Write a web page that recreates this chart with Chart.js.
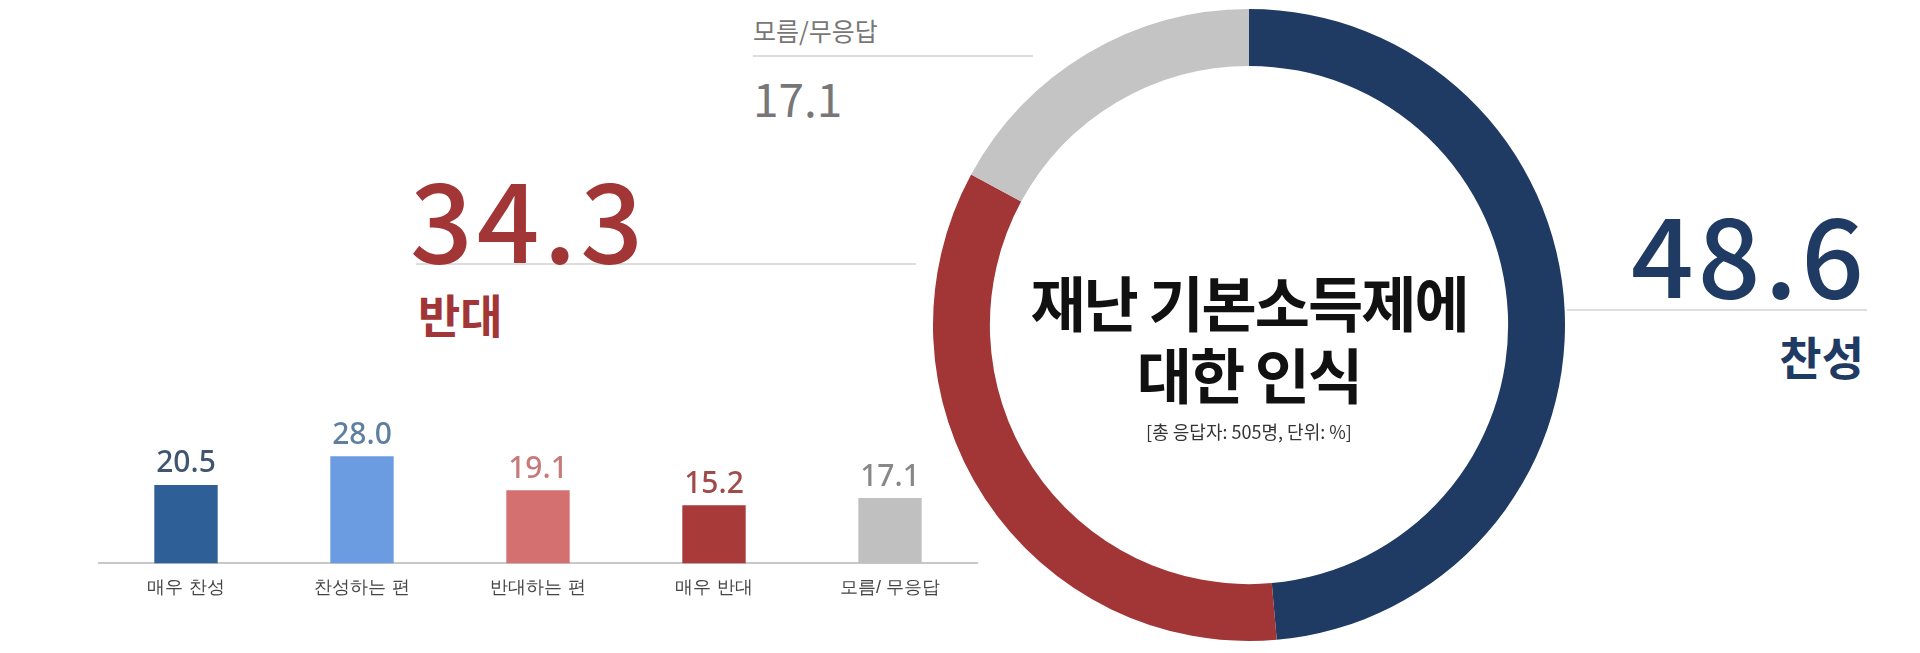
<!DOCTYPE html>
<html>
<head>
<meta charset="utf-8">
<script src="https://cdn.jsdelivr.net/npm/chart.js@4"></script>
<style>
  body { margin: 0; width: 1920px; height: 653px; background: #fff; overflow: hidden; position: relative;
         font-family: "Noto Sans CJK KR", "Noto Sans", sans-serif; }
  .t { position: absolute; white-space: nowrap; }
  .ln { position: absolute; height: 2px; background: #ddd; }
  canvas { position: absolute; }
</style>
</head>
<body>
<div class="ln" style="left:753px; top:55px; width:280px;"></div>
<div class="ln" style="left:416px; top:263px; width:500px;"></div>
<div class="ln" style="left:1567px; top:309px; width:300px;"></div>

<div class="t" style="left:753px; top:12px; font-size:25px; color:#777;">모름/무응답</div>
<div class="t" style="left:753px; top:64px; font-size:46px; color:#777;">17.1</div>
<div class="t" style="left:410px; top:160px; font-size:110px; font-weight:500; color:#a23535; letter-spacing:4px; line-height:1;">34.3</div>
<div class="t" style="left:418px; top:280px; font-size:46px; font-weight:bold; color:#a23535;">반대</div>
<div class="t" style="right:52px; top:195px; font-size:110px; font-weight:500; color:#1f3a63; letter-spacing:4px; line-height:1;">48.6</div>
<div class="t" style="right:56px; top:322px; font-size:46px; font-weight:bold; color:#1f3a63;">찬성</div>

<canvas id="donut" width="640" height="640" style="left:929px; top:5px;"></canvas>
<div class="t" style="left:1249px; top:265px; transform:translateX(-50%); text-align:center; font-size:60px; font-weight:bold; color:#111; line-height:72px; letter-spacing:-2px;">재난 기본소득제에<br>대한 인식</div>
<div class="t" style="left:1249px; top:418px; transform:translateX(-50%); font-size:18px; color:#333;">[총 응답자: 505명, 단위: %]</div>

<canvas id="bars" width="880" height="220" style="left:98px; top:385px;"></canvas>

<script>
'use strict';

const donutLabels = ['찬성', '반대', '모름/무응답'];
const donutValues = [48.6, 34.3, 17.1];
const donutColors = ['#1f3a63', '#a23535', '#c4c4c4'];

const barLabels = ['매우 찬성', '찬성하는 편', '반대하는 편', '매우 반대', '모름/ 무응답'];
const barValues = [20.5, 28.0, 19.1, 15.2, 17.1];
const barColors = ['#2f5f97', '#6b9be0', '#d47070', '#a83a3a', '#c0c0c0'];
const barTextColors = ['#3f5670', '#5f7f9f', '#c87a7a', '#a04a4a', '#888888'];

new Chart(document.getElementById('donut'), {
    type: 'doughnut',
    data: {
        labels: donutLabels,
        datasets: [{ data: donutValues, backgroundColor: donutColors, borderWidth: 0 }]
    },
    options: {
        responsive: false,
        animation: false,
        cutout: '82%',
        layout: { padding: 4 },
        plugins: { legend: { display: false }, tooltip: { enabled: false } }
    }
});

const valueLabels = {
    id: 'valueLabels',
    afterDatasetsDraw(chart) {
        const ctx = chart.ctx;
        chart.getDatasetMeta(0).data.forEach((bar, i) => {
            ctx.save();
            ctx.fillStyle = barTextColors[i];
            ctx.font = '500 30px "Noto Sans", sans-serif';
            ctx.textAlign = 'center';
            ctx.textBaseline = 'bottom';
            ctx.fillText(barValues[i].toFixed(1), bar.x, bar.y - 6);
            ctx.restore();
        });
    }
};

new Chart(document.getElementById('bars'), {
    type: 'bar',
    data: {
        labels: barLabels,
        datasets: [{
            data: barValues,
            backgroundColor: barColors,
            borderWidth: 0,
            barPercentage: 0.36,
            categoryPercentage: 1
        }]
    },
    options: {
        responsive: false,
        animation: false,
        layout: { padding: { top: 10 } },
        scales: {
            y: { display: false, min: 0, max: 44 },
            x: {
                grid: { display: false },
                border: { color: '#c8c8c8', width: 2 },
                ticks: { color: '#444', font: { size: 18 }, padding: 6 }
            }
        },
        plugins: { legend: { display: false }, tooltip: { enabled: false } }
    },
    plugins: [valueLabels]
});
</script>
</body>
</html>
